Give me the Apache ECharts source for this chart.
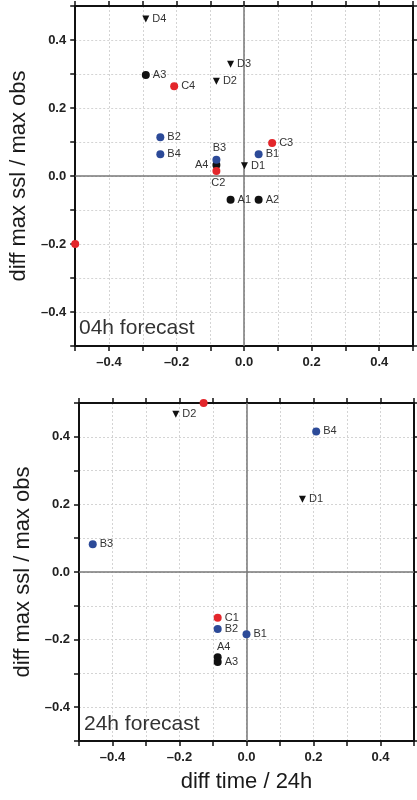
<!DOCTYPE html>
<html>
<head>
<meta charset="utf-8">
<script src="https://cdn.jsdelivr.net/npm/echarts@6/dist/echarts.min.js"></script>
<style>
  html, body { margin: 0; padding: 0; background: #fff; }
  #chart { width: 417px; height: 800px; }
</style>
</head>
<body>
<div id="chart"></div>
<script>
// 04h forecast panel
var names04 = ['A1', 'A2', 'A3', 'A4', 'B1', 'B2', 'B3', 'B4', 'C1', 'C2', 'C3', 'C4', 'D1', 'D2', 'D3', 'D4']
var time04 = [-0.04, 0.043, -0.291, -0.082, 0.043, -0.248, -0.082, -0.248, -0.5, -0.082, 0.083, -0.207, 0.001, -0.082, -0.04, -0.291]
var ssl04 = [-0.07, -0.07, 0.297, 0.032, 0.064, 0.114, 0.048, 0.064, -0.2, 0.015, 0.097, 0.264, 0.03, 0.279, 0.329, 0.462]

// 24h forecast panel
var names24 = ['A3', 'A4', 'B1', 'B2', 'B3', 'B4', 'C1', 'C4', 'D1', 'D2']
var time24 = [-0.086, -0.086, 0.0, -0.086, -0.459, 0.208, -0.086, -0.128, 0.167, -0.211]
var ssl24 = [-0.266, -0.252, -0.184, -0.169, 0.082, 0.416, -0.135, 0.5, 0.215, 0.467]

var panelTitles = ['04h forecast', '24h forecast']
var yTitle = 'diff max ssl / max obs'
var xTitle = 'diff time / 24h'

var FONT = 'Liberation Sans, Arial, Helvetica, sans-serif'

var groupStyle = {
  A: { color: '#111111', symbol: 'circle', size: 8 },
  B: { color: '#2c4a98', symbol: 'circle', size: 8 },
  C: { color: '#e3262b', symbol: 'circle', size: 8 },
  D: { color: '#111111', symbol: 'triangle', size: 7 }
}

// where a label sits when it is not to the right of its point
var labelPlace = [
  { B3: { position: 'top', distance: 2, offset: [3, 0] }, A4: { position: 'left', distance: 4 }, C2: { position: 'bottom', distance: 3, offset: [2, 0] }, C1: 'none' },
  { A4: { position: 'top', distance: 1, offset: [6, 0] }, C4: 'none' }
]

function tickText(v) {
  var r = Math.round(v * 10)
  if (r % 2 !== 0) return ''
  return (r / 10).toFixed(1).replace('-', '\u2013')
}

function makeAxes(gridIndex, dim, withName) {
  var main = {
    type: 'value',
    gridIndex: gridIndex,
    min: -0.5,
    max: 0.5,
    interval: 0.1,
    position: dim === 'x' ? 'bottom' : 'left',
    axisLine: { show: true, onZero: false, lineStyle: { color: '#111', width: 2 } },
    axisTick: { show: true, length: 5, lineStyle: { color: '#111', width: 1.5 } },
    axisLabel: {
      formatter: tickText,
      fontSize: 13,
      fontWeight: 'bold',
      color: '#222',
      fontFamily: FONT,
      margin: dim === 'x' ? 10 : 9
    },
    splitLine: { show: true, lineStyle: { color: '#d4d4d4', width: 1, type: [2, 2] } }
  }
  if (withName) {
    main.name = dim === 'x' ? xTitle : yTitle
    main.nameLocation = 'middle'
    main.nameGap = dim === 'x' ? 30 : 43
    main.nameTextStyle = { fontSize: 22, color: '#1a1a1a', fontFamily: FONT }
  }
  var other = {
    type: 'value',
    gridIndex: gridIndex,
    min: -0.5,
    max: 0.5,
    interval: 0.1,
    position: dim === 'x' ? 'top' : 'right',
    axisLine: { show: true, onZero: false, lineStyle: { color: '#111', width: 2 } },
    axisTick: { show: true, length: 5, lineStyle: { color: '#111', width: 1.5 } },
    axisLabel: { show: false },
    splitLine: { show: false }
  }
  return [main, other]
}

function buildSeries(panel, names, xs, ys) {
  var axisIdx = panel * 2
  var out = []
  Object.keys(groupStyle).forEach(function(g) {
    var st = groupStyle[g]
    var data = []
    for (var i = 0; i < names.length; i++) {
      if (names[i].charAt(0) !== g) continue
      var place = labelPlace[panel][names[i]]
      var lab = { show: true, position: 'right', distance: 3 }
      if (place === 'none') lab = { show: false }
      else if (place) lab = Object.assign({ show: true }, place)
      data.push({ name: names[i], value: [xs[i], ys[i]], label: lab })
    }
    out.push({
      type: 'scatter',
      xAxisIndex: axisIdx,
      yAxisIndex: axisIdx,
      clip: false,
      z: 5,
      symbol: st.symbol,
      symbolSize: st.size,
      symbolRotate: st.symbol === 'triangle' ? 180 : 0,
      itemStyle: { color: st.color, opacity: 1 },
      label: {
        formatter: '{b}',
        fontSize: 11,
        color: '#333',
        fontFamily: FONT
      },
      emphasis: { disabled: true },
      data: data
    })
  })
  // zero lines
  out.push({
    type: 'scatter',
    xAxisIndex: axisIdx,
    yAxisIndex: axisIdx,
    z: 2,
    data: [],
    markLine: {
      silent: true,
      symbol: 'none',
      animation: false,
      label: { show: false },
      lineStyle: { color: '#777', width: 1.5, type: 'solid' },
      data: [{ xAxis: 0 }, { yAxis: 0 }]
    }
  })
  return out
}

var chart = echarts.init(document.getElementById('chart'))
chart.setOption({
  animation: false,
  backgroundColor: '#fff',
  title: [
    { text: panelTitles[0], left: 79, top: 318, textStyle: { fontSize: 21, fontWeight: 'normal', color: '#333', fontFamily: FONT }, padding: 0 },
    { text: panelTitles[1], left: 84, top: 714, textStyle: { fontSize: 21, fontWeight: 'normal', color: '#333', fontFamily: FONT }, padding: 0 }
  ],
  grid: [
    { left: 73, top: 6, width: 340, height: 340 },
    { left: 79, top: 403, width: 340, height: 338 }
  ],
  xAxis: makeAxes(0, 'x', false).concat(makeAxes(1, 'x', true)),
  yAxis: makeAxes(0, 'y', true).concat(makeAxes(1, 'y', true)),
  series: buildSeries(0, names04, time04, ssl04).concat(buildSeries(1, names24, time24, ssl24))
})
</script>
</body>
</html>
